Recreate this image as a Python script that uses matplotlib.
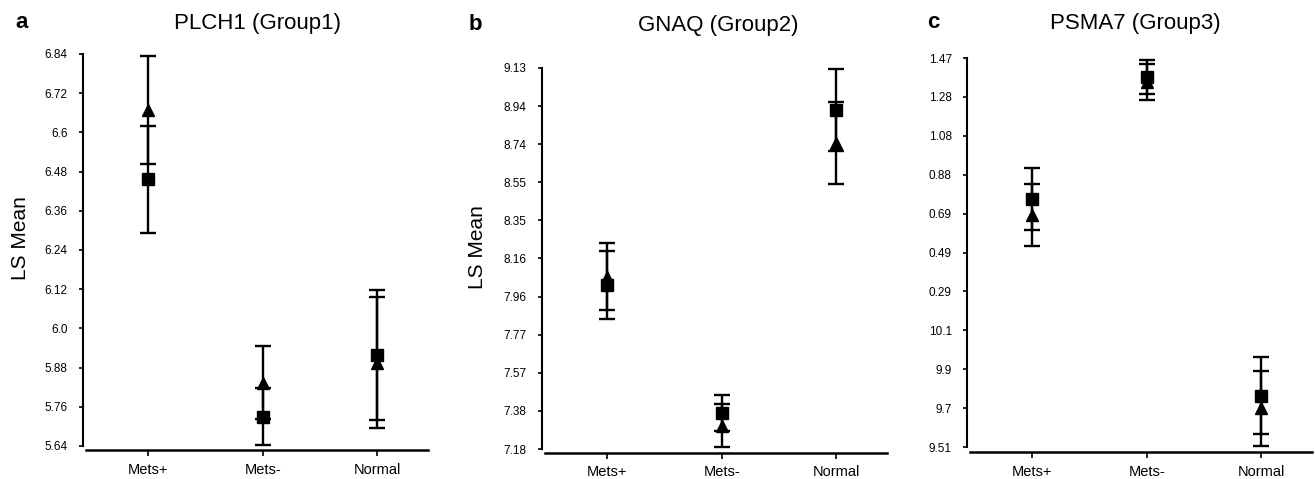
import numpy as np
import matplotlib
matplotlib.use('Agg')
import matplotlib.pyplot as plt

plt.rcParams['font.family'] = ['Liberation Sans', 'DejaVu Sans']

categories = ['Mets+', 'Mets-', 'Normal']

# PLCH1 (Group1)
plch1_sq = [6.456, 5.730, 5.919]
plch1_sq_err = [0.165, 0.088, 0.198]
plch1_tri = [6.669, 5.834, 5.895]
plch1_tri_err = [0.166, 0.112, 0.200]
plch1_ticks = ['6.84', '6.72', '6.6', '6.48', '6.36', '6.24', '6.12', '6.0', '5.88', '5.76', '5.64']
plch1_range = (5.64, 6.84)

# GNAQ (Group2)
gnaq_sq = [8.020, 7.364, 8.915]
gnaq_sq_err = [0.173, 0.092, 0.210]
gnaq_tri = [8.062, 7.300, 8.745]
gnaq_tri_err = [0.173, 0.110, 0.210]
gnaq_ticks = ['9.13', '8.94', '8.74', '8.55', '8.35', '8.16', '7.96', '7.77', '7.57', '7.38', '7.18']
gnaq_range = (7.18, 9.13)

# PSMA7 (Group3) - tick labels printed as in the original figure
psma7_sq = [10.760, 11.374, 9.769]
psma7_sq_err = [0.155, 0.085, 0.193]
psma7_tri = [10.680, 11.350, 9.705]
psma7_tri_err = [0.157, 0.090, 0.190]
psma7_ticks = ['1.47', '1.28', '1.08', '0.88', '0.69', '0.49', '0.29', '10.1', '9.9', '9.7', '9.51']
psma7_range = (9.51, 11.47)

W, H = 1315, 479
fig = plt.figure(figsize=(W / 100, H / 100), dpi=100)

# layout in pixels: left, top tick y, bottom tick y, spine y
panels = [
    dict(left=83, top=54, bot=446, spine=450, letter='a', lx=22, ly=23,
         title='PLCH1 (Group1)', tx=258, ylab=(20, 238),
         data=(plch1_sq, plch1_sq_err, plch1_tri, plch1_tri_err, plch1_ticks, plch1_range)),
    dict(left=542, top=68, bot=449, spine=453, letter='b', lx=475, ly=25,
         title='GNAQ (Group2)', tx=718, ylab=(477, 247),
         data=(gnaq_sq, gnaq_sq_err, gnaq_tri, gnaq_tri_err, gnaq_ticks, gnaq_range)),
    dict(left=967, top=58, bot=447, spine=452, letter='c', lx=933, ly=23,
         title='PSMA7 (Group3)', tx=1135, ylab=None,
         data=(psma7_sq, psma7_sq_err, psma7_tri, psma7_tri_err, psma7_ticks, psma7_range)),
]

step = 114.5  # px per category
xlo, xhi = -0.57, 2.44
x = np.arange(len(categories))

for p in panels:
    sq, sq_err, tri, tri_err, ticks, (lo, hi) = p['data']
    width = (xhi - xlo) * step
    ax = fig.add_axes([p['left'] / W, 1 - p['spine'] / H, width / W, (p['spine'] - p['top']) / H])
    per_px = (hi - lo) / (p['bot'] - p['top'])
    ax.set_ylim(lo - (p['spine'] - p['bot']) * per_px, hi)
    ax.set_xlim(xlo, xhi)

    kw = dict(color='black', ecolor='black', elinewidth=1.7, capsize=6, capthick=1.7,
              markersize=9, linestyle='none', clip_on=False)
    ax.errorbar(x, tri, yerr=tri_err, fmt='^', **kw)
    ax.errorbar(x, sq, yerr=sq_err, fmt='s', **kw)

    ax.set_yticks(np.linspace(hi, lo, len(ticks)))
    ax.set_yticklabels(ticks)
    ax.set_xticks(x)
    ax.set_xticklabels(categories)
    ax.tick_params(axis='y', length=3, width=1.2, pad=8, labelsize=8.5)
    ax.tick_params(axis='x', length=4, width=1.2, pad=5, labelsize=10.5)

    for s in ['top', 'right']:
        ax.spines[s].set_visible(False)
    ax.spines['left'].set_linewidth(1.5)
    ax.spines['bottom'].set_linewidth(1.8)
    ax.spines['left'].set_bounds(lo, hi)
    ax.spines['bottom'].set_bounds(xlo + 3 / step, xhi)

    fig.text(p['tx'] / W, 1 - p['ly'] / H, p['title'], fontsize=16, ha='center', va='center')
    fig.text(p['lx'] / W, 1 - p['ly'] / H, p['letter'], fontsize=16, fontweight='bold',
             ha='center', va='center')
    if p['ylab']:
        fig.text(p['ylab'][0] / W, 1 - p['ylab'][1] / H, 'LS Mean', fontsize=15,
                 rotation=90, ha='center', va='center')

fig.savefig('out.png', dpi=100)
